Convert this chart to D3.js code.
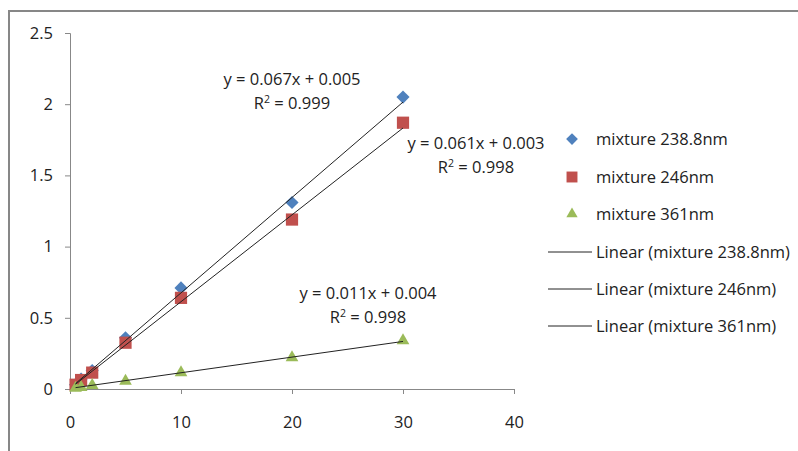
<!DOCTYPE html>
<html>
<head>
<meta charset="utf-8">
<script src="https://cdn.jsdelivr.net/npm/d3@7"></script>
<style>
  body { margin: 0; background: #fff; }
  svg { display: block; font-family: "Open Sans", Lato, sans-serif; }
</style>
</head>
<body>
<div id="chart"></div>
<script>
// Data
const concentrations = [0.5, 1, 2, 5, 10, 20, 30];
const abs238 = [0.03, 0.07, 0.13, 0.36, 0.71, 1.31, 2.05];
const abs246 = [0.03, 0.063, 0.115, 0.325, 0.64, 1.19, 1.87];
const abs361 = [0.006, 0.012, 0.025, 0.055, 0.115, 0.22, 0.34];
const seriesNames = ['mixture 238.8nm', 'mixture 246nm', 'mixture 361nm'];
const slopes = [0.067, 0.061, 0.011];
const intercepts = [0.005, 0.003, 0.004];
const r2Values = ['0.999', '0.998', '0.998'];
const xTicks = [0, 10, 20, 30, 40];
const yTicks = [0, 0.5, 1, 1.5, 2, 2.5];

const width = 798, height = 451;
const margin = { left: 70, top: 33, right: 284, bottom: 62 };
const colors = ['#4F81BD', '#C0504D', '#9BBB59'];
const symbols = [d3.symbolDiamond2, d3.symbolSquare2, d3.symbolTriangle2];
const symbolSize = [110, 190, 115];
const fontSize = 16.5;

const svg = d3.select('#chart').append('svg')
    .attr('width', width)
    .attr('height', height);

// outer chart frame
svg.append('rect')
    .attr('x', 9).attr('y', 11)
    .attr('width', 820).attr('height', 480)
    .attr('fill', 'none')
    .attr('stroke', '#878787')
    .attr('stroke-width', 2);

const x = d3.scaleLinear().domain([0, 40]).range([margin.left, width - margin.right]);
const y = d3.scaleLinear().domain([0, 2.5]).range([height - margin.bottom, margin.top]);

// axes
const xAxis = svg.append('g')
    .attr('transform', `translate(0,${y(0)})`)
    .call(d3.axisBottom(x).tickValues(xTicks).tickSize(5).tickPadding(22));
const yAxis = svg.append('g')
    .attr('transform', `translate(${x(0)},0)`)
    .call(d3.axisLeft(y).tickValues(yTicks).tickSize(5).tickPadding(12).tickFormat(d3.format('')));

[xAxis, yAxis].forEach(g => {
    g.select('.domain').attr('stroke', '#888');
    g.selectAll('.tick line').attr('stroke', '#888');
    g.selectAll('.tick text').attr('font-size', fontSize).attr('fill', '#222')
        .attr('font-family', '"Open Sans", Lato, sans-serif');
});

const allSeries = [abs238, abs246, abs361];

// points
allSeries.forEach((vals, i) => {
    svg.append('g').selectAll('path')
        .data(concentrations.map((c, j) => [c, vals[j]]))
        .enter().append('path')
        .attr('d', d3.symbol().type(symbols[i]).size(symbolSize[i]))
        .attr('transform', d => `translate(${x(d[0])},${y(d[1])})`)
        .attr('fill', colors[i]);
});

// trend lines over data range
const xMin = d3.min(concentrations), xMax = d3.max(concentrations);
allSeries.forEach((vals, i) => {
    svg.append('line')
        .attr('x1', x(xMin)).attr('y1', y(slopes[i] * xMin + intercepts[i]))
        .attr('x2', x(xMax)).attr('y2', y(slopes[i] * xMax + intercepts[i]))
        .attr('stroke', '#222')
        .attr('stroke-width', 1);
});

// equation labels
const labelPos = [[292, 85], [476, 149], [368, 299]];
labelPos.forEach((p, i) => {
    const t = svg.append('text')
        .attr('x', p[0]).attr('y', p[1])
        .attr('text-anchor', 'middle')
        .attr('font-size', fontSize)
        .attr('fill', '#222');
    t.append('tspan').attr('x', p[0])
        .text(`y = ${slopes[i].toFixed(3)}x + ${intercepts[i].toFixed(3)}`);
    const r = t.append('tspan').attr('x', p[0]).attr('dy', 24).text('R');
    r.append('tspan').attr('dy', -6).attr('font-size', 10.5).text('2');
    r.append('tspan').attr('dy', 6).text(` = ${r2Values[i]}`);
});

// legend
const legend = svg.append('g');
const legendY = [139, 177, 214, 252, 289, 326];
seriesNames.forEach((name, i) => {
    legend.append('path')
        .attr('d', d3.symbol().type(symbols[i]).size(symbolSize[i] * 0.8))
        .attr('transform', `translate(572,${legendY[i]})`)
        .attr('fill', colors[i]);
    legend.append('text')
        .attr('x', 596).attr('y', legendY[i])
        .attr('dy', '0.35em')
        .attr('font-size', fontSize).attr('fill', '#222')
        .text(name);
});
seriesNames.forEach((name, i) => {
    const ly = legendY[i + 3];
    legend.append('line')
        .attr('x1', 548).attr('x2', 592)
        .attr('y1', ly).attr('y2', ly)
        .attr('stroke', '#222');
    legend.append('text')
        .attr('x', 596).attr('y', ly)
        .attr('dy', '0.35em')
        .attr('font-size', fontSize).attr('fill', '#222')
        .text(`Linear (${name})`);
});
</script>
</body>
</html>
